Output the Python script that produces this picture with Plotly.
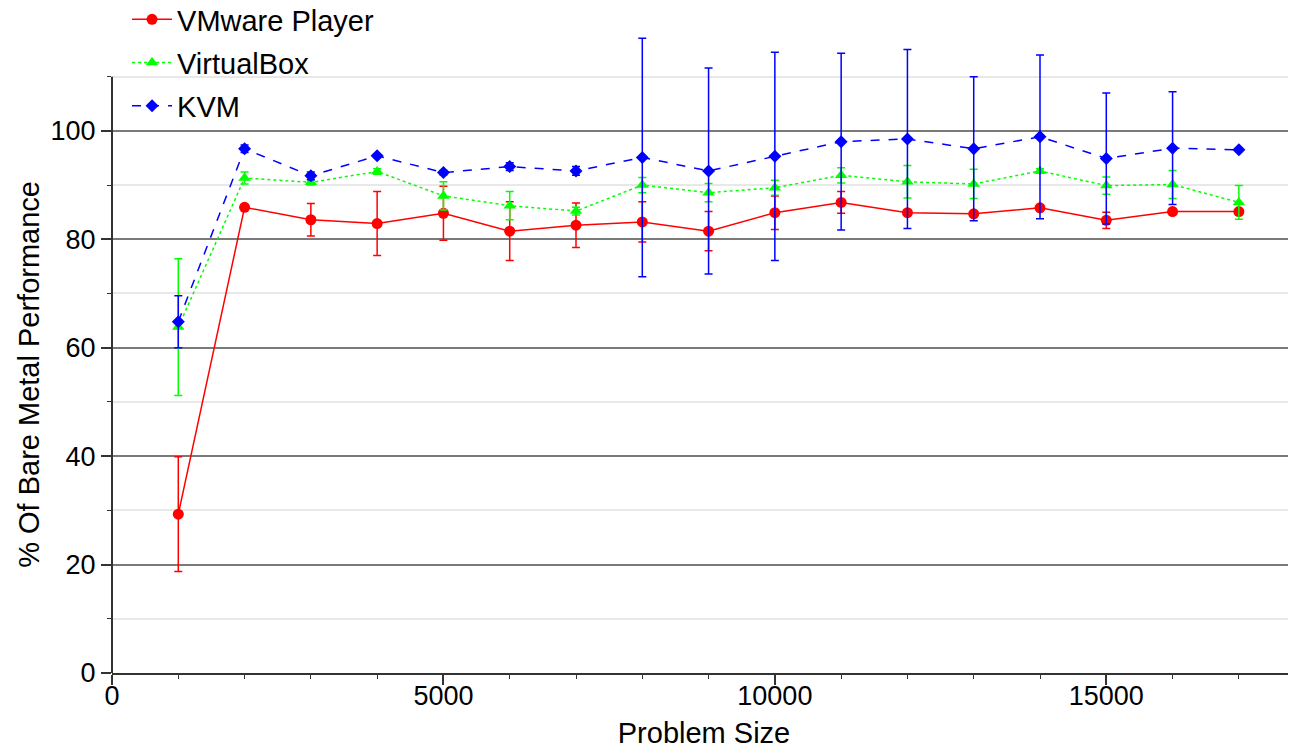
import plotly.graph_objects as go

problem_size = [1000, 2000, 3000, 4000, 5000, 6000, 7000, 8000, 9000, 10000,
                11000, 12000, 13000, 14000, 15000, 16000, 17000]

vmware = [29.3, 85.9, 83.6, 82.9, 84.8, 81.5, 82.6, 83.2, 81.5, 84.9,
          86.8, 84.9, 84.7, 85.8, 83.5, 85.1, 85.1]
vmware_err = [10.6, 0.3, 3.0, 5.9, 5.0, 5.4, 4.1, 3.7, 3.6, 3.1,
              2.0, 0.3, 0.3, 0.3, 1.5, 0.3, 0.3]

vbox = [63.8, 91.3, 90.5, 92.5, 88.0, 86.2, 85.2, 90.0, 88.6, 89.5,
        91.8, 90.6, 90.2, 92.6, 89.9, 90.1, 86.8]
vbox_err = [12.6, 1.1, 0.5, 0.5, 2.6, 2.6, 0.7, 1.4, 1.7, 1.4,
            1.4, 3.0, 2.7, 0.4, 1.6, 2.6, 3.1]

kvm = [64.8, 96.7, 91.7, 95.4, 92.3, 93.4, 92.6, 95.1, 92.6, 95.3,
       98.0, 98.5, 96.7, 98.9, 94.9, 96.8, 96.5]
kvm_err = [4.8, 0.7, 0.7, 0.3, 0.4, 0.7, 0.8, 22.0, 19.0, 19.2,
           16.3, 16.5, 13.3, 15.1, 12.1, 10.4, 0.3]

y_ticks = [0, 20, 40, 60, 80, 100]
y_minor = [10, 30, 50, 70, 90, 110]
x_ticks = [0, 5000, 10000, 15000]
x_tick_labels = ["0", "5000", "10000", "15000"]

Y_TITLE = "% Of Bare Metal Performance"
X_TITLE = "Problem Size"

FONT = "Liberation Sans, Arial, sans-serif"

series = [
    ("VMware Player", vmware, vmware_err, "#ff0000", "solid", "circle", 11),
    ("VirtualBox", vbox, vbox_err, "#00ff00", "dot", "triangle-up", 11),
    ("KVM", kvm, kvm_err, "#0000ff", "dash", "diamond", 10),
]

fig = go.Figure()
for name, ys, errs, color, dash, symbol, msize in series:
    fig.add_trace(go.Scatter(
        x=problem_size, y=ys, name=name, mode="lines+markers",
        legendgroup=name,
        line=dict(color=color, width=1.5, dash=dash),
        marker=dict(color=color, symbol=symbol, size=msize),
        error_y=dict(type="data", array=errs, visible=True,
                     color=color, thickness=1.5, width=4),
        cliponaxis=False,
    ))

# y-axis line drawn only up to 110 (the plot area extends a bit higher so that
# the tall error bars are not clipped)
fig.add_shape(type="line", xref="paper", yref="y", x0=0, x1=0, y0=0, y1=110,
              line=dict(color="#333333", width=2), layer="above")

# y-axis title, centred on the 0-110 span
fig.add_annotation(text=Y_TITLE, textangle=-90, showarrow=False,
                   xref="paper", x=0, xanchor="center", xshift=-83,
                   yref="y", y=55, yanchor="middle",
                   font=dict(family=FONT, size=29, color="black"))

fig.update_layout(
    width=1296, height=746,
    margin=dict(l=104, r=8, t=22, b=81, autoexpand=False),
    paper_bgcolor="white", plot_bgcolor="white",
    font=dict(family=FONT, size=27, color="black"),
    showlegend=True,
    legend=dict(
        x=0.0127, y=1.056, xanchor="left", yanchor="top",
        bgcolor="rgba(0,0,0,0)", borderwidth=0,
        traceorder="grouped", tracegroupgap=2.5,
        font=dict(family=FONT, size=29, color="black"),
        itemwidth=40,
    ),
    xaxis=dict(
        range=[0, 17862],
        tickvals=x_ticks, ticktext=x_tick_labels,
        ticks="outside", ticklen=10, tickwidth=1.5, tickcolor="#333333",
        showgrid=False, zeroline=False,
        showline=True, linecolor="#333333", linewidth=2,
        minor=dict(dtick=1000, tick0=0, ticks="outside", ticklen=4,
                   tickwidth=1.2, tickcolor="#333333", showgrid=False),
        title=dict(text=X_TITLE, standoff=12,
                   font=dict(family=FONT, size=29)),
        tickfont=dict(family=FONT, size=27),
    ),
    yaxis=dict(
        range=[0, 118.6],
        tickvals=y_ticks,
        ticks="outside", ticklen=10, tickwidth=1.5, tickcolor="#333333",
        showgrid=True, gridcolor="#7a7a7a", gridwidth=1.5,
        zeroline=False,
        showline=False,
        minor=dict(tickvals=y_minor, ticks="outside",
                   ticklen=4, tickwidth=1.2, tickcolor="#333333",
                   showgrid=True, gridcolor="#e8e8e8", gridwidth=1.5),
        tickfont=dict(family=FONT, size=27),
    ),
)

try:
    fig.update_xaxes(ticklabelstandoff=-12)
except ValueError:
    pass

fig.write_html("out.html")
